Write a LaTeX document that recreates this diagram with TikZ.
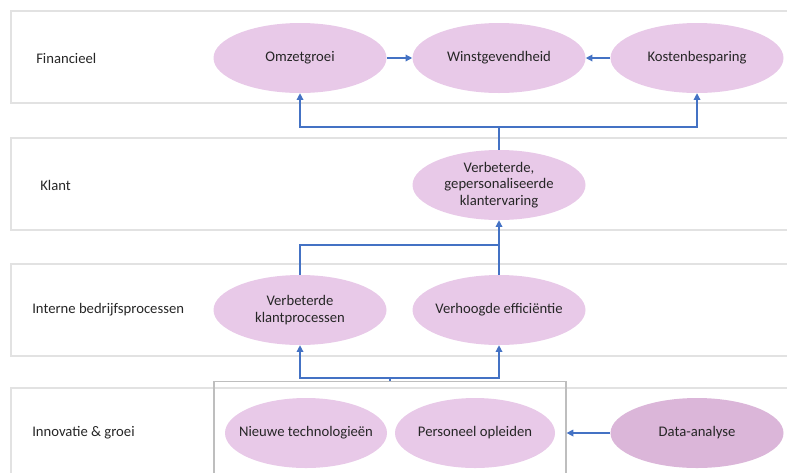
\documentclass[tikz,border=0pt]{standalone}
\usepackage{fontspec}
\setmainfont{Carlito}
\usepackage{xcolor}
\usetikzlibrary{shapes.geometric,arrows.meta,positioning,calc}

\definecolor{doelpaars}{HTML}{E8C9E8}
\definecolor{datapaars}{HTML}{DBB6D9}
\definecolor{pijlblauw}{HTML}{4472C4}
\definecolor{bandgrijs}{HTML}{E2E2E2}
\definecolor{kadergrijs}{HTML}{BEBEBE}
\definecolor{tekst}{HTML}{262626}

\begin{document}
\begin{tikzpicture}[x=0.75pt, y=-0.75pt,
  font=\fontsize{11}{12.5}\selectfont, text=tekst,
  band/.style={rectangle, draw=bandgrijs, line width=0.8pt, minimum width=588pt,
    minimum height=69pt, inner sep=0pt},
  bandlabel/.style={anchor=west, inner sep=0pt},
  doel/.style={ellipse, fill=doelpaars, minimum width=129.75pt,
    minimum height=52.5pt, inner ysep=0pt, inner xsep=-5pt, align=center},
  arrow/.style={-{Triangle[length=5pt, width=5pt]}, draw=pijlblauw, line width=0.9pt},
  line/.style={draw=pijlblauw, line width=0.9pt},
  kader/.style={rectangle, draw=kadergrijs, line width=0.9pt, minimum width=264pt,
    minimum height=70pt, inner sep=0pt},
]
\useasboundingbox (0,0) rectangle (787,472);

% Bands
\node[band] (bfin) at (403,57) {};
\node[band] (bkla) at (403,184) {};
\node[band] (bint) at (403,310) {};
\node[band] (binn) at (403,434) {};
\node[bandlabel] (lfin) at (36,58) {Financieel};
\node[bandlabel] (lkla) at (40,185) {Klant};
\node[bandlabel] (lint) at (32,310) {Interne bedrijfsprocessen};
\node[bandlabel] (linn) at (32,433) {Innovatie \& groei};

% Financieel
\node[doel] (omzet) at (300,58) {Omzetgroei};
\node[doel] (winst) at (499,58) {Winstgevendheid};
\node[doel] (kosten) at (697,58) {Kostenbesparing};

% Klant
\node[doel] (ervaring) at (499,185) {Verbeterde,\\gepersonaliseerde\\klantervaring};

% Interne bedrijfsprocessen
\node[doel] (proces) at (300,310) {Verbeterde\\klantprocessen};
\node[doel] (effic) at (499,310) {Verhoogde efficiëntie};

% Innovatie & groei
\node[kader] (groep) at (390,428) {};
\node[doel, minimum width=121.5pt, inner xsep=-12pt] (techn) at (306,433) {Nieuwe technologieën};
\node[doel, minimum width=120pt, inner xsep=-6pt] (opleid) at (475,433) {Personeel opleiden};
\node[doel, fill=datapaars] (data) at (697,433) {Data-analyse};

% Split points
\coordinate (s1) at (499,127);
\coordinate (s2) at (499,245);
\coordinate (s3) at (390,378);

% Arrows
\draw[arrow] (omzet) -- (winst);
\draw[arrow] (kosten) -- (winst);
\draw[line] (ervaring.north) -- (s1);
\draw[arrow] (s1) -| (omzet.south);
\draw[arrow] (s1) -| (kosten.south);
\draw[arrow] (effic.north) -- (ervaring.south);
\draw[line] (proces.north) |- (s2);
\draw[line] (groep.north) -- (s3);
\draw[arrow] (s3) -| (proces.south);
\draw[arrow] (s3) -| (effic.south);
\draw[arrow] (data) -- (data -| groep.east);
\end{tikzpicture}
\end{document}
